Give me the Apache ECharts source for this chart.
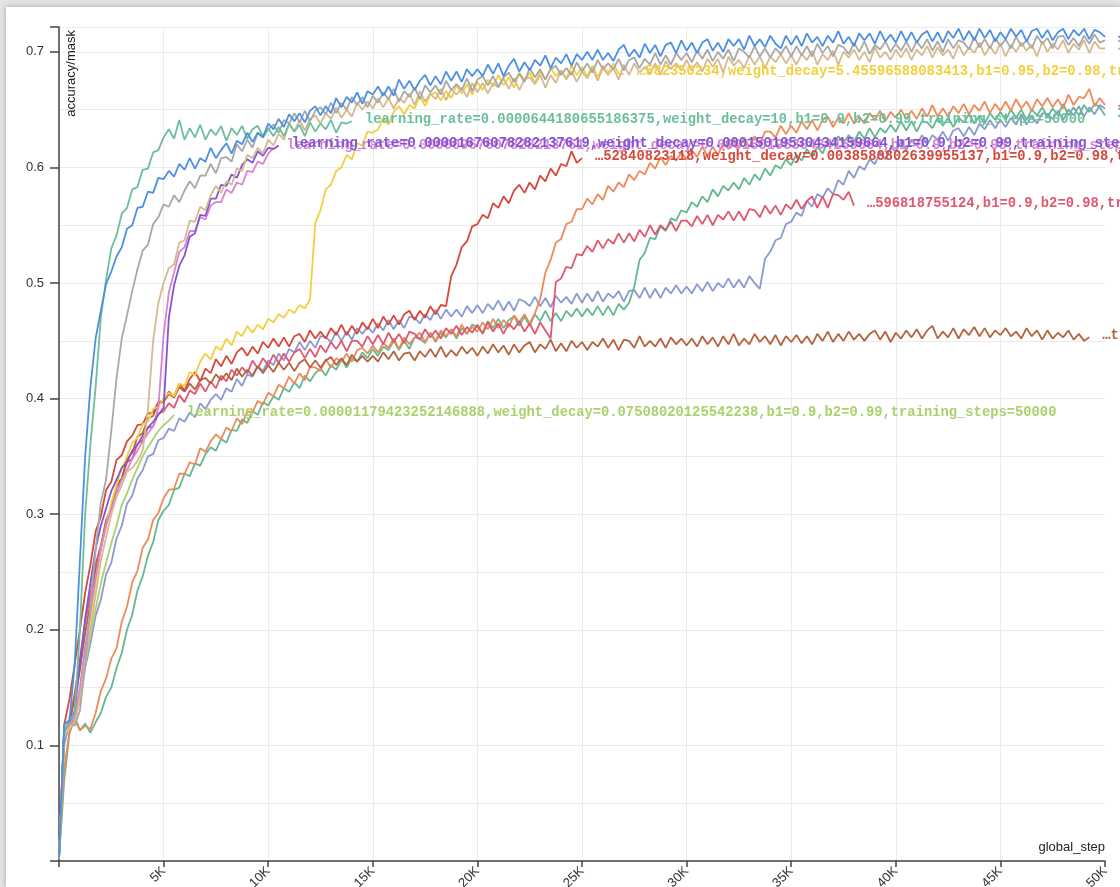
<!DOCTYPE html>
<html>
<head>
<meta charset="utf-8">
<script src="https://cdn.jsdelivr.net/npm/echarts@6/dist/echarts.min.js"></script>
<style>
  html, body { margin: 0; padding: 0; width: 1120px; height: 887px; overflow: hidden; background: #e3e3e3; }
  #chart { position: absolute; left: 6px; top: 7px; width: 1114px; height: 880px; background: #fff;
           box-shadow: 0 0 5px rgba(0,0,0,0.28); }
</style>
</head>
<body>
<div id="chart"></div>
<script>
// Logged global_step values (every 250 steps)
const steps = [
  0,250,500,750,1000,1250,1500,1750,2000,2250,2500,2750,3000,3250,3500,3750,4000,4250,4500,4750,
  5000,5250,5500,5750,6000,6250,6500,6750,7000,7250,7500,7750,8000,8250,8500,8750,9000,9250,9500,9750,
  10000,10250,10500,10750,11000,11250,11500,11750,12000,12250,12500,12750,13000,13250,13500,13750,14000,14250,14500,14750,
  15000,15250,15500,15750,16000,16250,16500,16750,17000,17250,17500,17750,18000,18250,18500,18750,19000,19250,19500,19750,
  20000,20250,20500,20750,21000,21250,21500,21750,22000,22250,22500,22750,23000,23250,23500,23750,24000,24250,24500,24750,
  25000,25250,25500,25750,26000,26250,26500,26750,27000,27250,27500,27750,28000,28250,28500,28750,29000,29250,29500,29750,
  30000,30250,30500,30750,31000,31250,31500,31750,32000,32250,32500,32750,33000,33250,33500,33750,34000,34250,34500,34750,
  35000,35250,35500,35750,36000,36250,36500,36750,37000,37250,37500,37750,38000,38250,38500,38750,39000,39250,39500,39750,
  40000,40250,40500,40750,41000,41250,41500,41750,42000,42250,42500,42750,43000,43250,43500,43750,44000,44250,44500,44750,
  45000,45250,45500,45750,46000,46250,46500,46750,47000,47250,47500,47750,48000,48250,48500,48750,49000,49250,49500,49750,
  50000
];

// accuracy/mask for each run, one value per logged step
const blueRun = [
  0.003,0.118,0.122,0.17,0.26,0.35,0.41,0.452,0.476,0.499,0.51,0.523,0.531,0.547,0.55,0.565,0.566,0.579,0.578,0.591,0.59,
  0.597,0.592,0.603,0.598,0.608,0.599,0.608,0.605,0.617,0.608,0.615,0.621,0.612,0.623,0.62,0.63,0.622,0.63,0.626,0.638,
  0.633,0.642,0.635,0.646,0.64,0.647,0.639,0.649,0.653,0.645,0.653,0.647,0.66,0.652,0.661,0.656,0.665,0.655,0.666,0.663,
  0.67,0.662,0.67,0.662,0.676,0.668,0.675,0.667,0.675,0.68,0.671,0.679,0.672,0.683,0.675,0.683,0.674,0.685,0.679,0.685,
  0.679,0.689,0.681,0.69,0.679,0.688,0.694,0.683,0.691,0.684,0.693,0.688,0.697,0.686,0.695,0.69,0.698,0.688,0.698,0.693,
  0.7,0.693,0.702,0.693,0.699,0.692,0.702,0.706,0.696,0.702,0.695,0.707,0.699,0.706,0.696,0.706,0.708,0.699,0.71,0.701,
  0.708,0.699,0.708,0.711,0.701,0.708,0.7,0.711,0.705,0.711,0.702,0.714,0.705,0.711,0.704,0.714,0.707,0.703,0.714,0.706,
  0.714,0.705,0.716,0.708,0.713,0.705,0.714,0.708,0.718,0.707,0.713,0.705,0.716,0.71,0.716,0.707,0.718,0.709,0.715,0.708,
  0.718,0.709,0.717,0.708,0.715,0.718,0.709,0.717,0.708,0.718,0.712,0.72,0.71,0.718,0.71,0.72,0.712,0.719,0.709,0.717,
  0.711,0.72,0.713,0.719,0.709,0.718,0.72,0.712,0.719,0.71,0.717,0.72,0.711,0.719,0.714,0.72,0.711,0.719,0.717,0.713
];
const tealRun = [
  0.004,0.112,0.121,0.128,0.2,0.3,0.36,0.41,0.47,0.503,0.53,0.541,0.56,0.565,0.581,0.583,0.598,0.599,0.613,0.615,0.626,
  0.633,0.625,0.641,0.624,0.634,0.626,0.637,0.624,0.633,0.628,0.636,0.623,0.634,0.628,0.636,0.625,0.633,0.636,0.627,0.634,
  0.627,0.635,0.627,0.638,0.631,0.637,0.627,0.639,0.631,0.638,0.633,0.641,0.63,0.639,0.638,0.64
];
const grayRun = [
  0.002,0.115,0.119,0.117,0.13,0.17,0.22,0.27,0.31,0.33,0.372,0.418,0.452,0.472,0.493,0.512,0.528,0.533,0.551,0.557,0.568,
  0.566,0.576,0.57,0.58,0.588,0.582,0.593,0.593,0.603,0.595,0.608,0.609,0.605,0.62,0.614,0.624,0.617,0.63,0.626,0.633,
  0.637,0.63,0.641,0.638,0.647,0.639,0.649,0.64,0.649,0.652,0.646,0.656,0.647,0.656,0.65,0.661,0.654,0.661,0.652,0.662,
  0.656,0.665,0.659,0.668,0.657,0.666,0.661,0.669,0.659,0.671,0.665,0.671,0.663,0.675,0.667,0.672,0.667,0.677,0.666,0.676,
  0.679,0.671,0.679,0.67,0.678,0.682,0.674,0.681,0.674,0.686,0.678,0.685,0.676,0.685,0.688,0.68,0.686,0.68,0.691,0.683,
  0.69,0.682,0.693,0.685,0.69,0.685,0.694,0.684,0.693,0.695,0.686,0.694,0.689,0.699,0.689,0.697,0.689,0.699,0.693,0.699,
  0.691,0.701,0.694,0.702,0.692,0.7,0.694,0.702,0.692,0.703,0.7,0.695,0.705,0.696,0.703,0.695,0.703,0.698,0.705,0.696,
  0.705,0.697,0.705,0.696,0.707,0.699,0.705,0.696,0.706,0.704,0.698,0.708,0.7,0.709,0.698,0.706,0.702,0.709,0.7,0.707,
  0.701,0.709,0.7,0.709,0.703,0.711,0.701,0.709,0.7,0.711,0.703,0.71,0.708,0.702,0.713,0.704,0.711,0.703,0.712,0.705,
  0.711,0.703,0.713,0.705,0.71,0.703,0.714,0.707,0.712,0.703,0.713,0.714,0.706,0.712,0.705,0.714,0.707,0.715,0.708,0.71
];
const tanRun = [
  0.002,0.11,0.116,0.118,0.14,0.17,0.2,0.23,0.26,0.28,0.3,0.315,0.325,0.337,0.34,0.346,0.355,0.39,0.45,0.483,0.5,
  0.513,0.516,0.535,0.537,0.554,0.553,0.566,0.563,0.576,0.584,0.578,0.588,0.585,0.599,0.597,0.611,0.608,0.617,0.612,0.624,
  0.619,0.629,0.624,0.638,0.631,0.641,0.632,0.642,0.645,0.638,0.647,0.642,0.652,0.643,0.65,0.644,0.656,0.65,0.657,0.651,
  0.66,0.652,0.66,0.651,0.66,0.656,0.664,0.654,0.666,0.657,0.664,0.659,0.668,0.658,0.668,0.663,0.669,0.661,0.673,0.665,
  0.673,0.664,0.673,0.669,0.677,0.668,0.677,0.667,0.676,0.678,0.672,0.68,0.669,0.68,0.673,0.684,0.676,0.683,0.674,0.683,
  0.677,0.686,0.675,0.686,0.68,0.686,0.676,0.689,0.68,0.69,0.682,0.687,0.681,0.69,0.68,0.692,0.685,0.69,0.684,0.693,
  0.684,0.691,0.683,0.694,0.687,0.694,0.682,0.696,0.688,0.693,0.686,0.697,0.689,0.696,0.686,0.696,0.691,0.698,0.69,0.697,
  0.689,0.698,0.693,0.701,0.689,0.698,0.693,0.701,0.689,0.7,0.695,0.702,0.693,0.7,0.691,0.704,0.695,0.7,0.693,0.702,
  0.695,0.703,0.693,0.702,0.697,0.705,0.695,0.704,0.697,0.702,0.694,0.706,0.697,0.704,0.699,0.708,0.697,0.705,0.698,0.707,
  0.696,0.706,0.7,0.708,0.701,0.706,0.696,0.709,0.7,0.707,0.702,0.71,0.699,0.707,0.702,0.71,0.699,0.709,0.703,0.703
];
const yellowRun = [
  0.002,0.11,0.115,0.12,0.145,0.18,0.21,0.24,0.27,0.29,0.31,0.325,0.34,0.35,0.362,0.366,0.378,0.38,0.391,0.393,0.4,
  0.405,0.402,0.413,0.411,0.423,0.42,0.432,0.439,0.434,0.445,0.442,0.452,0.446,0.458,0.454,0.463,0.457,0.464,0.46,0.469,
  0.466,0.473,0.47,0.477,0.474,0.481,0.478,0.486,0.552,0.563,0.581,0.585,0.597,0.6,0.611,0.607,0.621,0.619,0.631,0.63,
  0.633,0.643,0.637,0.648,0.653,0.646,0.654,0.651,0.662,0.653,0.663,0.665,0.658,0.666,0.66,0.671,0.664,0.672,0.663,0.674,
  0.667,0.676,0.67,0.68,0.671,0.678,0.669,0.682,0.676,0.682,0.673,0.683,0.676,0.686,0.679,0.684,0.677,0.688,0.68,0.687,
  0.679,0.688,0.678,0.688,0.682,0.69,0.681,0.681
];
const purpleRun = [
  0.003,0.112,0.12,0.13,0.17,0.21,0.24,0.27,0.29,0.305,0.32,0.33,0.34,0.345,0.355,0.36,0.368,0.375,0.38,0.386,0.392,
  0.47,0.498,0.515,0.524,0.54,0.543,0.559,0.558,0.573,0.573,0.585,0.584,0.594,0.591,0.602,0.607,0.604,0.614,0.61,0.617,
  0.616,0.619
];
const pinkRun = [
  0.003,0.11,0.118,0.125,0.15,0.185,0.215,0.245,0.27,0.29,0.305,0.318,0.33,0.338,0.348,0.355,0.363,0.37,0.376,0.392,0.455,
  0.492,0.509,0.527,0.531,0.545,0.545,0.557,0.555,0.567,0.57,0.57,0.581,0.578,0.587,0.585,0.597,0.596,0.605,0.603,0.612,
  0.617
];
const redRun = [
  0.004,0.118,0.14,0.17,0.2,0.232,0.256,0.285,0.298,0.321,0.328,0.347,0.351,0.363,0.368,0.377,0.378,0.387,0.388,0.397,0.398,
  0.406,0.402,0.413,0.407,0.417,0.423,0.415,0.426,0.422,0.434,0.428,0.437,0.43,0.44,0.444,0.437,0.445,0.439,0.449,0.444,
  0.452,0.445,0.453,0.445,0.454,0.456,0.449,0.459,0.452,0.458,0.452,0.461,0.455,0.464,0.455,0.463,0.456,0.466,0.46,0.469,
  0.461,0.471,0.464,0.472,0.464,0.473,0.476,0.468,0.476,0.47,0.48,0.473,0.481,0.48,0.506,0.516,0.531,0.536,0.549,0.551,
  0.559,0.556,0.569,0.565,0.575,0.569,0.58,0.585,0.578,0.587,0.581,0.593,0.588,0.599,0.593,0.603,0.601,0.614,0.604,0.608
];
const orangeRun = [
  0.003,0.08,0.112,0.122,0.113,0.117,0.114,0.128,0.147,0.158,0.175,0.184,0.207,0.22,0.241,0.251,0.271,0.278,0.295,0.301,0.314,
  0.321,0.322,0.335,0.335,0.345,0.343,0.357,0.354,0.363,0.369,0.365,0.375,0.372,0.383,0.378,0.389,0.388,0.398,0.395,0.405,
  0.402,0.412,0.409,0.419,0.413,0.422,0.416,0.427,0.427,0.424,0.434,0.427,0.435,0.432,0.439,0.432,0.442,0.444,0.439,0.446,
  0.44,0.448,0.444,0.452,0.443,0.453,0.447,0.453,0.457,0.449,0.457,0.45,0.459,0.454,0.46,0.454,0.464,0.456,0.462,0.458,
  0.466,0.46,0.469,0.461,0.468,0.462,0.472,0.466,0.473,0.465,0.474,0.486,0.509,0.52,0.535,0.538,0.551,0.553,0.564,0.564,
  0.573,0.568,0.577,0.572,0.584,0.579,0.587,0.583,0.594,0.589,0.597,0.594,0.604,0.599,0.609,0.602,0.61,0.606,0.613,0.607,
  0.615,0.609,0.618,0.61,0.618,0.611,0.621,0.616,0.624,0.617,0.625,0.618,0.627,0.62,0.631,0.631,0.626,0.636,0.629,0.636,
  0.63,0.64,0.633,0.641,0.632,0.641,0.644,0.635,0.643,0.638,0.647,0.638,0.644,0.638,0.647,0.641,0.649,0.64,0.648,0.643,
  0.65,0.642,0.649,0.642,0.651,0.644,0.654,0.644,0.651,0.644,0.653,0.647,0.655,0.646,0.654,0.649,0.657,0.647,0.655,0.649,
  0.657,0.649,0.659,0.651,0.657,0.649,0.659,0.653,0.66,0.652,0.659,0.651,0.663,0.654,0.661,0.66,0.668,0.653,0.66,0.654
];
const greenRun = [
  0.002,0.07,0.11,0.125,0.113,0.119,0.111,0.12,0.128,0.142,0.15,0.167,0.18,0.2,0.213,0.234,0.246,0.264,0.276,0.295,0.303,
  0.308,0.321,0.323,0.335,0.333,0.344,0.342,0.352,0.358,0.355,0.365,0.362,0.373,0.372,0.382,0.379,0.389,0.386,0.397,0.394,
  0.402,0.399,0.409,0.406,0.414,0.409,0.42,0.415,0.422,0.426,0.42,0.429,0.425,0.434,0.427,0.435,0.432,0.44,0.435,0.443,
  0.437,0.445,0.442,0.45,0.442,0.45,0.443,0.453,0.452,0.448,0.457,0.449,0.457,0.453,0.46,0.452,0.461,0.456,0.464,0.462,
  0.457,0.467,0.461,0.469,0.461,0.468,0.471,0.463,0.471,0.463,0.473,0.467,0.476,0.467,0.474,0.467,0.476,0.471,0.478,0.471,
  0.478,0.472,0.48,0.472,0.48,0.472,0.482,0.477,0.483,0.497,0.52,0.526,0.539,0.538,0.549,0.545,0.556,0.554,0.563,0.561,
  0.57,0.566,0.575,0.57,0.581,0.575,0.584,0.58,0.587,0.581,0.591,0.585,0.594,0.589,0.599,0.593,0.602,0.599,0.607,0.602,
  0.611,0.606,0.616,0.609,0.618,0.612,0.623,0.619,0.627,0.621,0.628,0.622,0.631,0.625,0.634,0.626,0.634,0.63,0.637,0.631,
  0.64,0.632,0.64,0.631,0.64,0.639,0.634,0.643,0.636,0.643,0.635,0.643,0.639,0.646,0.638,0.645,0.638,0.647,0.641,0.648,
  0.641,0.65,0.643,0.65,0.641,0.65,0.645,0.652,0.644,0.651,0.645,0.655,0.645,0.652,0.645,0.654,0.648,0.655,0.652,0.645
];
const crimsonRun = [
  0.003,0.112,0.122,0.145,0.175,0.207,0.23,0.257,0.273,0.295,0.305,0.323,0.33,0.345,0.348,0.361,0.364,0.375,0.376,0.387,0.389,
  0.396,0.392,0.403,0.397,0.407,0.404,0.413,0.406,0.415,0.409,0.42,0.415,0.425,0.42,0.427,0.422,0.433,0.426,0.435,0.429,
  0.438,0.431,0.439,0.432,0.44,0.443,0.435,0.443,0.436,0.446,0.44,0.449,0.443,0.45,0.441,0.45,0.45,0.445,0.454,0.447,
  0.455,0.447,0.457,0.449,0.456,0.448,0.458,0.456,0.451,0.46,0.453,0.459,0.452,0.461,0.456,0.463,0.455,0.462,0.457,0.464,
  0.456,0.466,0.458,0.465,0.456,0.465,0.46,0.467,0.458,0.465,0.456,0.466,0.459,0.452,0.501,0.504,0.514,0.513,0.525,0.524,
  0.532,0.527,0.537,0.53,0.538,0.534,0.543,0.535,0.543,0.536,0.546,0.54,0.55,0.542,0.55,0.546,0.553,0.545,0.554,0.554,
  0.549,0.558,0.551,0.559,0.55,0.559,0.555,0.562,0.554,0.562,0.554,0.564,0.563,0.557,0.567,0.56,0.567,0.559,0.568,0.564,
  0.572,0.564,0.571,0.575,0.565,0.575,0.565,0.577,0.576,0.572,0.579,0.567
];
const slateRun = [
  0.002,0.1,0.12,0.127,0.138,0.167,0.188,0.212,0.226,0.248,0.258,0.279,0.29,0.309,0.316,0.331,0.338,0.35,0.352,0.364,0.366,
  0.374,0.372,0.383,0.38,0.388,0.384,0.396,0.391,0.399,0.404,0.399,0.409,0.406,0.417,0.411,0.421,0.419,0.428,0.424,0.433,
  0.429,0.439,0.433,0.443,0.44,0.449,0.442,0.45,0.444,0.454,0.453,0.449,0.458,0.45,0.458,0.451,0.461,0.456,0.462,0.457,
  0.465,0.459,0.468,0.46,0.468,0.461,0.471,0.47,0.465,0.473,0.468,0.477,0.469,0.477,0.471,0.477,0.471,0.48,0.474,0.481,
  0.474,0.482,0.477,0.485,0.476,0.484,0.476,0.486,0.484,0.48,0.488,0.48,0.487,0.479,0.489,0.483,0.488,0.482,0.491,0.483,
  0.491,0.484,0.493,0.484,0.491,0.487,0.493,0.484,0.493,0.494,0.487,0.496,0.487,0.495,0.487,0.496,0.491,0.498,0.491,0.497,
  0.491,0.499,0.493,0.501,0.493,0.5,0.496,0.504,0.496,0.503,0.496,0.506,0.5,0.495,0.521,0.527,0.537,0.539,0.551,0.553,
  0.561,0.558,0.571,0.566,0.577,0.574,0.582,0.577,0.589,0.585,0.597,0.591,0.601,0.598,0.607,0.603,0.613,0.607,0.617,0.614,
  0.622,0.615,0.624,0.619,0.628,0.62,0.628,0.624,0.631,0.623,0.632,0.634,0.627,0.635,0.628,0.638,0.633,0.641,0.634,0.641,
  0.635,0.643,0.637,0.646,0.637,0.645,0.638,0.647,0.646,0.642,0.649,0.641,0.65,0.645,0.653,0.644,0.652,0.646,0.654,0.651
];
const brownRun = [
  0.003,0.113,0.12,0.14,0.165,0.197,0.223,0.252,0.27,0.293,0.305,0.325,0.331,0.348,0.353,0.367,0.37,0.383,0.385,0.396,0.397,
  0.404,0.401,0.41,0.406,0.413,0.408,0.416,0.418,0.413,0.421,0.416,0.422,0.416,0.426,0.419,0.425,0.42,0.428,0.422,0.429,
  0.423,0.431,0.425,0.431,0.424,0.431,0.434,0.427,0.433,0.427,0.433,0.436,0.429,0.435,0.429,0.438,0.432,0.437,0.432,0.437,
  0.432,0.44,0.434,0.441,0.433,0.439,0.44,0.433,0.441,0.436,0.443,0.436,0.445,0.436,0.442,0.437,0.445,0.439,0.444,0.437,
  0.445,0.439,0.447,0.44,0.446,0.438,0.447,0.44,0.446,0.449,0.44,0.447,0.443,0.451,0.441,0.448,0.441,0.45,0.444,0.449,
  0.442,0.449,0.445,0.452,0.444,0.451,0.442,0.451,0.45,0.444,0.454,0.445,0.45,0.445,0.452,0.444,0.453,0.447,0.452,0.446,
  0.452,0.445,0.454,0.447,0.453,0.445,0.454,0.447,0.456,0.446,0.452,0.447,0.456,0.449,0.454,0.447,0.455,0.446,0.454,0.449,
  0.455,0.448,0.454,0.447,0.456,0.45,0.458,0.449,0.456,0.45,0.458,0.451,0.456,0.45,0.456,0.459,0.451,0.458,0.449,0.457,
  0.452,0.459,0.453,0.46,0.452,0.459,0.463,0.452,0.458,0.453,0.461,0.452,0.46,0.455,0.462,0.454,0.461,0.453,0.459,0.455,
  0.461,0.454,0.458,0.452,0.461,0.454,0.459,0.451,0.459,0.452,0.457,0.453,0.459,0.451,0.456,0.45,0.453
];
const limeRun = [
  0.003,0.108,0.118,0.125,0.145,0.17,0.195,0.218,0.24,0.258,0.275,0.29,0.308,0.318,0.33,0.34,0.35,0.358,0.365,0.372,0.377,
  0.381,0.386
];

// Run names drawn at the end of each curve
const labelTeal = 'learning_rate=0.0000644180655186375,weight_decay=10,b1=0.9,b2=0.99,training_steps=50000';
const labelPurple = 'learning_rate=0.00001676078282137619,weight_decay=0.00015019530434159664,b1=0.9,b2=0.99,training_steps=50000';
const labelPink = 'learning_rate=0.00000967607828213761,weight_decay=0.00015019530434159664,b1=0.9,b2=0.98,training_steps=50000';
const labelYellow = '…582350234,weight_decay=5.45596588083413,b1=0.95,b2=0.98,training_steps=50000';
const labelRed = '…52840823118,weight_decay=0.0038580802639955137,b1=0.9,b2=0.98,training_steps=50000';
const labelCrimson = '…596818755124,b1=0.9,b2=0.98,training_steps=50000';
const labelLime = 'learning_rate=0.00001179423252146888,weight_decay=0.07508020125542238,b1=0.9,b2=0.99,training_steps=50000';
const labelTail = '…training_steps=50000';

const yTickLabels = ['0.1', '0.2', '0.3', '0.4', '0.5', '0.6', '0.7'];

function run(name, values, color, label) {
  return {
    name: name,
    type: 'line',
    data: values.map((v, i) => [steps[i], v]),
    showSymbol: false,
    symbol: 'none',
    smooth: false,
    lineStyle: { color: color, width: 1.8 },
    itemStyle: { color: color },
    emphasis: { disabled: true },
    endLabel: {
      show: true,
      formatter: label,
      color: color,
      fontFamily: '"Liberation Mono", "DejaVu Sans Mono", monospace',
      fontWeight: 'bold',
      fontSize: 13.8,
      distance: 13,
      offset: [0, -2]
    }
  };
}

const chart = echarts.init(document.getElementById('chart'), null, { renderer: 'canvas' });

const axisColor = '#444';
const gridColor = '#ebebeb';
// vertical grid lines at 0..50K; the one on the right border stays hidden
const xGridColors = [gridColor, gridColor, gridColor, gridColor, gridColor, gridColor,
                     gridColor, gridColor, gridColor, gridColor, 'rgba(0,0,0,0)'];

chart.setOption({
  animation: false,
  backgroundColor: '#fff',
  grid: { left: 53, right: 15, top: 20, bottom: 26, containLabel: false, outerBoundsMode: 'none' },
  xAxis: {
    type: 'value',
    min: 0, max: 50000, interval: 5000,
    name: 'global_step',
    nameLocation: 'end',
    nameGap: 0,
    nameTextStyle: { fontFamily: '"Liberation Sans", Arial, sans-serif', fontSize: 13, color: '#222',
                     align: 'right', verticalAlign: 'bottom', padding: [0, 0, 7, 0] },
    axisLine: { show: true, onZero: false, lineStyle: { color: axisColor, width: 1.5 } },
    axisTick: { show: true, length: 6, lineStyle: { color: axisColor, width: 1.5 } },
    axisLabel: {
      rotate: 45, margin: 8,
      fontFamily: '"Liberation Sans", Arial, sans-serif', fontSize: 13, color: '#333',
      formatter: v => (v === 0 ? '' : (v / 1000) + 'K')
    },
    splitLine: { show: true, lineStyle: { color: xGridColors, width: 1 } }
  },
  yAxis: [
    {
      type: 'value',
      min: 0, max: 0.7215, interval: 0.1,
      name: 'accuracy/mask',
      nameLocation: 'end',
      nameRotate: 90,
      nameGap: -3,
      nameTextStyle: { fontFamily: '"Liberation Sans", Arial, sans-serif', fontSize: 13, color: '#222',
                       align: 'right', verticalAlign: 'top', padding: [6, 0, 0, 0] },
      axisLine: { show: true, onZero: false, lineStyle: { color: axisColor, width: 1.5 } },
      axisTick: { show: true, length: 9, lineStyle: { color: axisColor, width: 1.5 } },
      axisLabel: {
        margin: 15,
        fontFamily: '"Liberation Sans", Arial, sans-serif', fontSize: 13, color: '#333',
        formatter: v => {
          const k = Math.round(v * 10);
          return (k >= 1 && Math.abs(v * 10 - k) < 1e-6) ? yTickLabels[k - 1] : '';
        }
      },
      splitLine: { show: false }
    },
    {
      type: 'value',
      min: 0, max: 0.7215, interval: 0.05,
      position: 'left',
      axisLine: { show: false },
      axisTick: { show: false },
      axisLabel: { show: false },
      splitLine: { show: true, lineStyle: { color: gridColor, width: 1 } }
    }
  ],
  series: [
    run('slate', slateRun, '#8a9ad0', labelTail),
    run('green', greenRun, '#62b98f', labelTail),
    run('orange', orangeRun, '#ee8a5a', labelTail),
    run('crimson', crimsonRun, '#df5870', labelCrimson),
    run('brown', brownRun, '#b4633e', labelTail),
    run('red', redRun, '#d6483c', labelRed),
    run('lime', limeRun, '#a9d26c', labelLime),
    run('yellow', yellowRun, '#f4cf3d', labelYellow),
    run('pink', pinkRun, '#d883d0', labelPink),
    run('purple', purpleRun, '#8256d2', labelPurple),
    run('tan', tanRun, '#d6b98f', labelTail),
    run('gray', grayRun, '#a8a8a8', labelTail),
    run('teal', tealRun, '#6cbf9b', labelTeal),
    run('blue', blueRun, '#4d90e2', labelTail)
  ]
});
</script>
</body>
</html>
